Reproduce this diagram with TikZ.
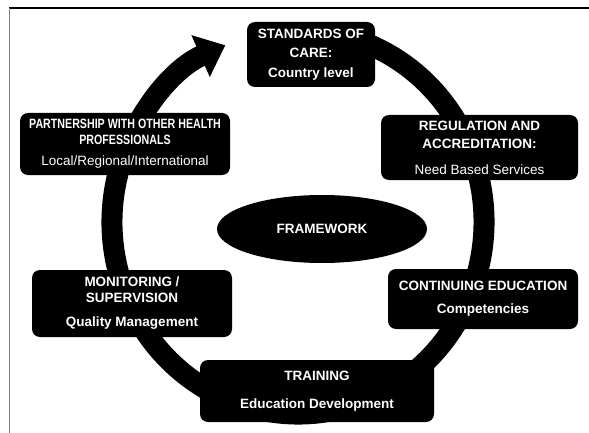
\documentclass[tikz,border=0pt]{standalone}
\usepackage{fontspec}
\setmainfont{Liberation Sans}
\newfontfamily\narrowsf[FakeStretch=0.79]{Liberation Sans}
\usetikzlibrary{shapes.geometric}
\usetikzlibrary{arrows.meta}

\begin{document}
\begin{tikzpicture}[x=1pt, y=1pt, every node/.style={font=\fontsize{13.5}{16}\selectfont},
	  box/.style={rectangle,rounded corners=8pt,fill=black,text=white,align=center,inner sep=0pt},
	  oval/.style={ellipse,fill=black,text=white,inner sep=0pt,minimum width=210pt,minimum height=68pt},
	  ring/.style={line width=21pt,-{Triangle[width=44pt,length=27pt]}}]
	  \useasboundingbox (0,0) rectangle (589,-433);
	  \draw[black, line width=1.2pt] (9,-8) -- (589,-8);
	  \draw[gray, line width=1pt] (9,-8) -- (9,-433);
%
	  \coordinate (c) at (298,-222);
	  \draw[ring] (c) ++(75:186pt and 192pt) arc[start angle=75, end angle=-247, x radius=186pt, y radius=192pt];
%
	  \node[box, minimum width=128pt, minimum height=65pt] (std) at (311,-54.5)
	    {\bfseries STANDARDS OF\\[3.5pt]\bfseries CARE:\\[3.5pt]\bfseries Country level};
	  \node[box, minimum width=197pt, minimum height=65pt] (reg) at (479.5,-147.5)
	    {\bfseries REGULATION AND\\[2pt]\bfseries ACCREDITATION:\\[10pt]Need Based Services};
	  \node[box, minimum width=190pt, minimum height=60pt] (cont) at (483,-299)
	    {\bfseries CONTINUING EDUCATION\\[7pt]\bfseries Competencies};
	  \node[box, minimum width=234pt, minimum height=62pt] (train) at (317,-391)
	    {\bfseries TRAINING\\[12pt]\bfseries Education Development};
	  \node[box, minimum width=200pt, minimum height=67pt] (mon) at (132,-303.5)
	    {\bfseries MONITORING /\\\bfseries SUPERVISION\\[8pt]\bfseries Quality Management};
	  \node[box, minimum width=210pt, minimum height=62pt] (part) at (125,-144)
	    {\narrowsf\bfseries PARTNERSHIP WITH OTHER HEALTH\\\narrowsf\bfseries PROFESSIONALS\\[5pt]Local/Regional/International};
	  \node[oval] (fw) at (322,-229) {\bfseries FRAMEWORK};
\end{tikzpicture}
\end{document}
